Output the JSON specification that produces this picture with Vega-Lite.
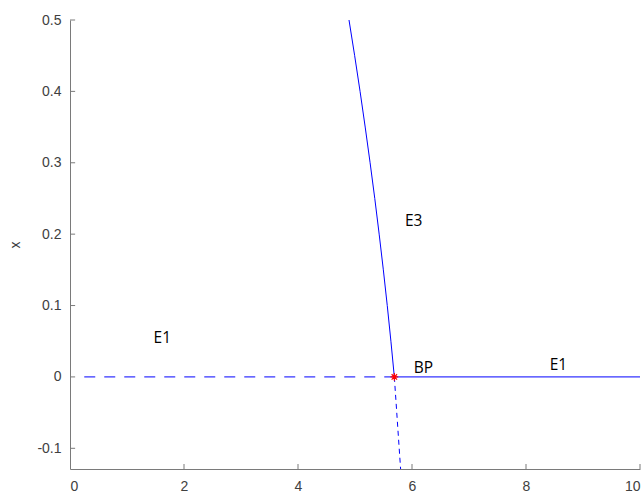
{
  "$schema": "https://vega.github.io/schema/vega-lite/v6.json",
  "width": 570,
  "height": 449,
  "autosize": {"type": "none"},
  "padding": {"left": 70, "top": 20, "right": 3, "bottom": 26},
  "background": "white",
  "config": {
    "view": {"stroke": null},
    "axis": {
      "grid": false,
      "domainColor": "#7a7a7a",
      "tickColor": "#7a7a7a",
      "labelFont": "Liberation Sans",
      "labelFontSize": 14,
      "labelColor": "#404040",
      "titleFont": "Liberation Sans",
      "titleFontSize": 14,
      "titleFontWeight": "normal",
      "titleColor": "#404040"
    }
  },
  "datasets": {
    "curves": [
      {"series": "E1dash", "x": 0.25, "y": 0},
      {"series": "E1dash", "x": 5.69, "y": 0},
      {"series": "E1solid", "x": 5.69, "y": 0},
      {"series": "E1solid", "x": 10, "y": 0},
      {"series": "E3solid", "x": 5.69, "y": 0},
      {"series": "E3solid", "x": 5.63, "y": 0.05},
      {"series": "E3solid", "x": 5.566, "y": 0.1},
      {"series": "E3solid", "x": 5.497, "y": 0.15},
      {"series": "E3solid", "x": 5.424, "y": 0.2},
      {"series": "E3solid", "x": 5.347, "y": 0.25},
      {"series": "E3solid", "x": 5.265, "y": 0.3},
      {"series": "E3solid", "x": 5.179, "y": 0.35},
      {"series": "E3solid", "x": 5.089, "y": 0.4},
      {"series": "E3solid", "x": 4.994, "y": 0.45},
      {"series": "E3solid", "x": 4.895, "y": 0.5},
      {"series": "E3dash", "x": 5.69, "y": 0},
      {"series": "E3dash", "x": 5.8, "y": -0.129}
    ],
    "labels": [
      {"label": "E1", "x": 1.62, "y": 0.055},
      {"label": "E3", "x": 6.03, "y": 0.218},
      {"label": "BP", "x": 6.2, "y": 0.013},
      {"label": "E1", "x": 8.57, "y": 0.017}
    ],
    "yticks": [
      {"v": -0.1, "x0": 0, "x1": 0.09},
      {"v": 0, "x0": 0, "x1": 0.09},
      {"v": 0.1, "x0": 0, "x1": 0.09},
      {"v": 0.2, "x0": 0, "x1": 0.09},
      {"v": 0.3, "x0": 0, "x1": 0.09},
      {"v": 0.4, "x0": 0, "x1": 0.09},
      {"v": 0.5, "x0": 0, "x1": 0.09}
    ],
    "xticks": [
      {"v": 2, "y0": -0.129, "y1": -0.122},
      {"v": 4, "y0": -0.129, "y1": -0.122},
      {"v": 6, "y0": -0.129, "y1": -0.122},
      {"v": 8, "y0": -0.129, "y1": -0.122},
      {"v": 10, "y0": -0.129, "y1": -0.122}
    ],
    "bp": [{"x": 5.69, "y": 0}]
  },
  "layer": [
    {
      "data": {"name": "curves"},
      "transform": [{"filter": "datum.series === 'E1dash'"}],
      "mark": {"type": "line", "color": "#0000ff", "strokeWidth": 1, "strokeDash": [11, 9]},
      "encoding": {
        "x": {"field": "x", "type": "quantitative", "scale": {"domain": [0, 10], "nice": false}, "axis": {"values": [0, 2, 4, 6, 8, 10], "tickSize": 0, "labelPadding": 10, "title": null, "labelExpr": "toString(datum.value)"}},
        "y": {"field": "y", "type": "quantitative", "scale": {"domain": [-0.129, 0.5], "nice": false, "zero": false}, "axis": {"values": [-0.1, 0, 0.1, 0.2, 0.3, 0.4, 0.5], "tickSize": 0, "labelPadding": 9, "title": "x", "titlePadding": 14, "labelExpr": "toString(datum.value)"}}
      }
    },
    {
      "data": {"name": "yticks"},
      "mark": {"type": "rule", "color": "#7a7a7a", "strokeWidth": 1},
      "encoding": {
        "x": {"field": "x0", "type": "quantitative"},
        "x2": {"field": "x1"},
        "y": {"field": "v", "type": "quantitative"}
      }
    },
    {
      "data": {"name": "xticks"},
      "mark": {"type": "rule", "color": "#7a7a7a", "strokeWidth": 1},
      "encoding": {
        "x": {"field": "v", "type": "quantitative"},
        "y": {"field": "y0", "type": "quantitative"},
        "y2": {"field": "y1"}
      }
    },
    {
      "data": {"name": "curves"},
      "transform": [{"filter": "datum.series === 'E1solid' || datum.series === 'E3solid'"}],
      "mark": {"type": "line", "color": "#0000ff", "strokeWidth": 1},
      "encoding": {
        "x": {"field": "x", "type": "quantitative"},
        "y": {"field": "y", "type": "quantitative"},
        "detail": {"field": "series"},
        "order": {"field": "y", "type": "quantitative"}
      }
    },
    {
      "data": {"name": "curves"},
      "transform": [{"filter": "datum.series === 'E3dash'"}],
      "mark": {"type": "line", "color": "#0000ff", "strokeWidth": 1, "strokeDash": [5, 4]},
      "encoding": {
        "x": {"field": "x", "type": "quantitative"},
        "y": {"field": "y", "type": "quantitative"}
      }
    },
    {
      "data": {"name": "bp"},
      "mark": {"type": "point", "shape": "M-1,0L1,0M0,-1L0,1M-0.7,-0.7L0.7,0.7M-0.7,0.7L0.7,-0.7", "filled": false, "color": "#ff0000", "strokeWidth": 1.2, "size": 60, "opacity": 1},
      "encoding": {
        "x": {"field": "x", "type": "quantitative"},
        "y": {"field": "y", "type": "quantitative"}
      }
    },
    {
      "data": {"name": "labels"},
      "mark": {"type": "text", "font": "Open Sans", "fontSize": 15.5, "color": "#000000", "align": "center", "baseline": "middle"},
      "encoding": {
        "x": {"field": "x", "type": "quantitative"},
        "y": {"field": "y", "type": "quantitative"},
        "text": {"field": "label"}
      }
    }
  ]
}
